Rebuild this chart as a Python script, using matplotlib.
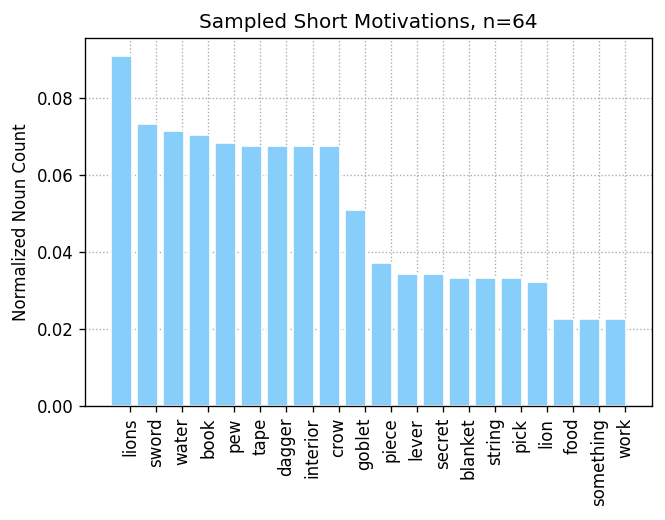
import matplotlib
matplotlib.use("Agg")
import matplotlib.pyplot as plt
import numpy as np

nouns = ["lions", "sword", "water", "book", "pew", "tape", "dagger", "interior",
         "crow", "goblet", "piece", "lever", "secret", "blanket", "string",
         "pick", "lion", "food", "something", "work"]
counts = [0.0910, 0.0733, 0.0713, 0.0703, 0.0684, 0.0674, 0.0674, 0.0674,
          0.0674, 0.0508, 0.0371, 0.0342, 0.0342, 0.0332, 0.0332, 0.0332,
          0.0322, 0.0225, 0.0225, 0.0225]
title = "Sampled Short Motivations, n=64"

dpi = 120
fig = plt.figure(figsize=(665 / dpi, 520 / dpi), dpi=dpi)
ax = fig.add_axes([85 / 665, 114 / 520, 567 / 665, 368 / 520])

x = np.arange(len(nouns))
ax.bar(x, counts, width=0.8, color="lightskyblue", edgecolor="white", zorder=2)
# tick marks sit slightly right of the bar centres, as in the original
ax.set_xticks(x + 0.35)
ax.set_xticklabels(nouns, rotation=90)
ax.set_ylabel("Normalized Noun Count")
ax.set_title(title, fontsize=12)
ax.grid(True, linestyle=":", color="darkgray", zorder=0)
ax.set_axisbelow(True)

fig.savefig("out.png", dpi=dpi)
